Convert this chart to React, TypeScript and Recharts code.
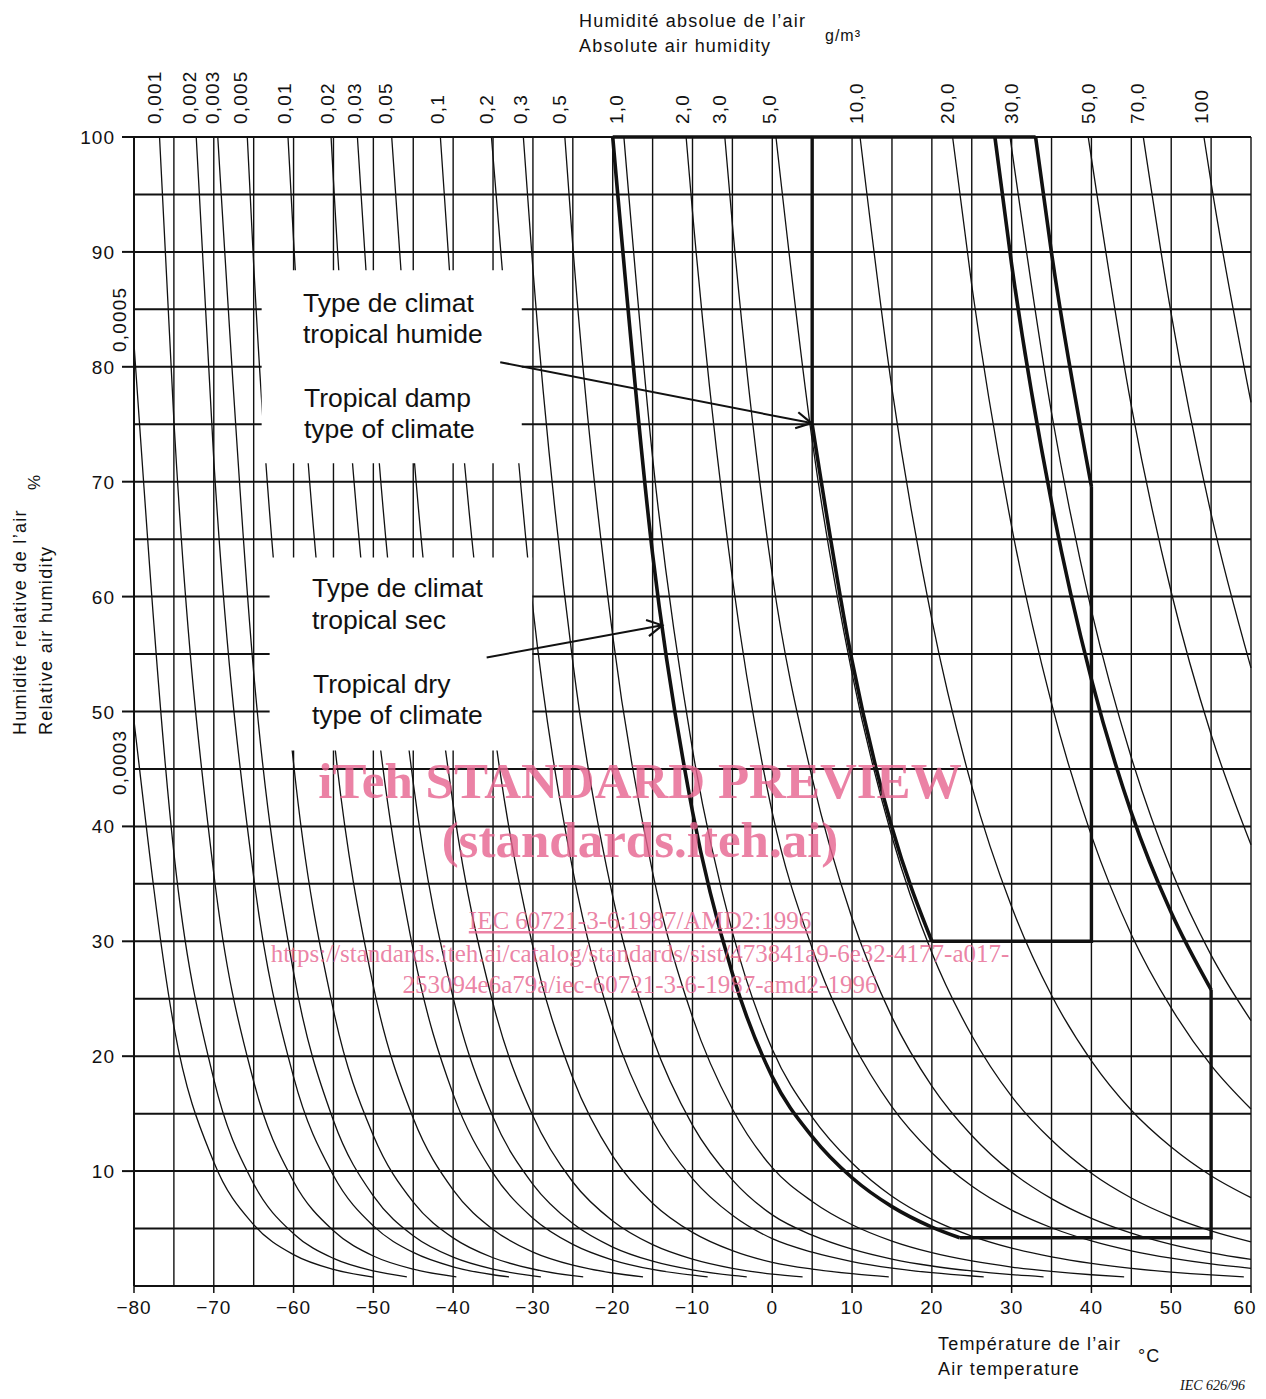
import React from "react";
import {
  CartesianGrid,
  Line,
  LineChart,
  ReferenceArea,
  ReferenceDot,
  ReferenceLine,
  XAxis,
  YAxis,
} from "recharts";

type Pt = [number, number];

// axis ticks (grid every 5, labels every 10)
const TEMP_TICKS = [
  -80, -75, -70, -65, -60, -55, -50, -45, -40, -35, -30, -25, -20, -15, -10, -5, 0, 5, 10, 15, 20,
  25, 30, 35, 40, 45, 50, 55, 60,
];
const RH_TICKS = [0, 5, 10, 15, 20, 25, 30, 35, 40, 45, 50, 55, 60, 65, 70, 75, 80, 85, 90, 95, 100];

// absolute humidity labels along the top (g/m3) and where they sit on the temperature scale
const TOP_LABELS = [
  "0,001", "0,002", "0,003", "0,005", "0,01", "0,02", "0,03", "0,05", "0,1", "0,2", "0,3", "0,5",
  "1,0", "2,0", "3,0", "5,0", "10,0", "20,0", "30,0", "50,0", "70,0", "100",
];
const TOP_LABEL_T = [
  -77.4, -73.0, -70.1, -66.6, -61.1, -55.8, -52.4, -48.5, -42.0, -35.8, -31.6, -26.7, -19.5, -11.3,
  -6.6, -0.3, 10.6, 22.0, 30.0, 39.6, 45.8, 53.8,
];

// constant absolute humidity curves: [temperature °C, relative humidity %]
const AH_0_0003: Pt[] = [[-80, 49.2], [-75, 22.6], [-70, 10.8], [-65, 5.34], [-60, 2.73], [-55, 1.44], [-50, 0.78]];
const AH_0_0005: Pt[] = [[-80, 82.0], [-75, 37.7], [-70, 18.0], [-65, 8.89], [-60, 4.55], [-55, 2.4], [-50, 1.31], [-45.8, 0.8]];
const AH_0_001: Pt[] = [[-76.8, 100], [-75, 75.3], [-70, 35.9], [-65, 17.8], [-60, 9.1], [-55, 4.81], [-50, 2.61], [-45, 1.46], [-39.6, 0.8]];
const AH_0_002: Pt[] = [[-72.2, 100], [-70, 71.9], [-65, 35.6], [-60, 18.2], [-55, 9.62], [-50, 5.23], [-45, 2.92], [-40, 1.67], [-35, 0.98], [-33.0, 0.8]];
const AH_0_003: Pt[] = [[-69.5, 100], [-65, 53.4], [-60, 27.3], [-55, 14.4], [-50, 7.84], [-45, 4.38], [-40, 2.51], [-35, 1.47], [-30, 0.89], [-29.0, 0.8]];
const AH_0_005: Pt[] = [[-65.8, 100], [-65, 88.9], [-60, 45.5], [-55, 24.0], [-50, 13.1], [-45, 7.3], [-40, 4.19], [-35, 2.46], [-30, 1.48], [-25, 0.9], [-23.7, 0.8]];
const AH_0_01: Pt[] = [[-60.7, 100], [-60, 91.0], [-55, 48.1], [-50, 26.1], [-45, 14.6], [-40, 8.37], [-35, 4.92], [-30, 2.95], [-25, 1.81], [-20, 1.13], [-16.2, 0.8]];
const AH_0_02: Pt[] = [[-55.3, 100], [-55, 96.2], [-50, 52.3], [-45, 29.2], [-40, 16.7], [-35, 9.83], [-30, 5.9], [-25, 3.62], [-20, 2.26], [-15, 1.44], [-10, 0.94], [-8.1, 0.8]];
const AH_0_03: Pt[] = [[-52.0, 100], [-50, 78.4], [-45, 43.8], [-40, 25.1], [-35, 14.7], [-30, 8.85], [-25, 5.43], [-20, 3.39], [-15, 2.16], [-10, 1.4], [-5, 0.92], [-3.2, 0.8]];
const AH_0_05: Pt[] = [[-47.7, 100], [-45, 73.0], [-40, 41.9], [-35, 24.6], [-30, 14.8], [-25, 9.05], [-20, 5.66], [-15, 3.6], [-10, 2.34], [-5, 1.54], [0, 1.03], [3.8, 0.8]];
const AH_0_1: Pt[] = [[-41.6, 100], [-40, 83.7], [-35, 49.2], [-30, 29.5], [-25, 18.1], [-20, 11.3], [-15, 7.21], [-10, 4.67], [-5, 3.08], [0, 2.06], [5, 1.47], [10, 1.07], [14.6, 0.8]];
const AH_0_2: Pt[] = [[-35.2, 100], [-35, 98.3], [-30, 59.0], [-25, 36.2], [-20, 22.6], [-15, 14.4], [-10, 9.35], [-5, 6.16], [0, 4.12], [5, 2.94], [10, 2.13], [15, 1.56], [20, 1.16], [25, 0.87], [26.5, 0.8]];
const AH_0_3: Pt[] = [[-31.2, 100], [-30, 88.5], [-25, 54.3], [-20, 33.9], [-15, 21.6], [-10, 14.0], [-5, 9.24], [0, 6.19], [5, 4.42], [10, 3.2], [15, 2.34], [20, 1.74], [25, 1.31], [30, 0.99], [34.0, 0.8]];
const AH_0_5: Pt[] = [[-26.0, 100], [-25, 90.5], [-20, 56.6], [-15, 36.0], [-10, 23.4], [-5, 15.4], [0, 10.3], [5, 7.36], [10, 5.33], [15, 3.91], [20, 2.9], [25, 2.18], [30, 1.65], [35, 1.27], [40, 0.98], [44.1, 0.8]];
const AH_1: Pt[] = [[-18.6, 100], [-15, 72.1], [-10, 46.7], [-5, 30.8], [0, 20.6], [5, 14.7], [10, 10.7], [15, 7.81], [20, 5.8], [25, 4.35], [30, 3.3], [35, 2.53], [40, 1.96], [45, 1.53], [50, 1.21], [55, 0.96], [59.1, 0.8]];
const AH_2: Pt[] = [[-10.8, 100], [-10, 93.5], [-5, 61.6], [0, 41.2], [5, 29.4], [10, 21.3], [15, 15.6], [20, 11.6], [25, 8.71], [30, 6.61], [35, 5.07], [40, 3.92], [45, 3.06], [50, 2.42], [55, 1.92], [60, 1.54]];
const AH_3: Pt[] = [[-5.95, 100], [-5, 92.4], [0, 61.9], [5, 44.2], [10, 32.0], [15, 23.4], [20, 17.4], [25, 13.1], [30, 9.91], [35, 7.6], [40, 5.88], [45, 4.6], [50, 3.62], [55, 2.88], [60, 2.31]];
const AH_5: Pt[] = [[0.46, 100], [5, 73.6], [10, 53.3], [15, 39.1], [20, 29.0], [25, 21.8], [30, 16.5], [35, 12.7], [40, 9.81], [45, 7.66], [50, 6.04], [55, 4.8], [60, 3.84]];
const AH_10: Pt[] = [[11.0, 100], [15, 78.1], [20, 58.0], [25, 43.5], [30, 33.0], [35, 25.3], [40, 19.6], [45, 15.3], [50, 12.1], [55, 9.6], [60, 7.69]];
const AH_20: Pt[] = [[22.6, 100], [25, 87.1], [30, 66.1], [35, 50.7], [40, 39.2], [45, 30.6], [50, 24.2], [55, 19.2], [60, 15.4]];
const AH_30: Pt[] = [[29.8, 100], [35, 76.0], [40, 58.8], [45, 46.0], [50, 36.2], [55, 28.8], [60, 23.1]];
const AH_50: Pt[] = [[39.6, 100], [45, 76.6], [50, 60.4], [55, 48.0], [60, 38.4]];
const AH_70: Pt[] = [[46.5, 100], [50, 84.6], [55, 67.2], [60, 53.8]];
const AH_100: Pt[] = [[54.1, 100], [55, 96.0], [60, 76.9]];

const THIN_CURVES: Pt[][] = [
  AH_0_0003, AH_0_0005, AH_0_001, AH_0_002, AH_0_003, AH_0_005, AH_0_01, AH_0_02, AH_0_03, AH_0_05,
  AH_0_1, AH_0_2, AH_0_3, AH_0_5, AH_1, AH_2, AH_3, AH_5, AH_10, AH_20, AH_30, AH_50, AH_70, AH_100,
];

// climate type outlines
const DRY_LEFT: Pt[] = [[-20, 100], [-15, 63.7], [-10, 41.3], [-5, 27.2], [0, 18.2], [5, 13.0], [10, 9.42], [15, 6.91], [20, 5.13], [23.5, 4.2]];
const DRY_RIGHT: Pt[] = [[27.9, 100], [30, 88.9], [35, 68.2], [40, 52.8], [45, 41.2], [50, 32.5], [55, 25.8]];
const DRY_BOTTOM: Pt[] = [[23.5, 4.2], [55, 4.2], [55, 25.8]];
const DAMP_LOWER: Pt[] = [[5, 75], [10, 54.4], [15, 39.9], [20, 30]];
const DAMP_RIGHT: Pt[] = [[33, 100], [35, 89.9], [40, 69.6]];
const DAMP_EDGES: Pt[] = [[40, 69.6], [40, 30], [20, 30]];
const DAMP_LEFT: Pt[] = [[5, 100], [5, 75]];
const TOP_EDGE: Pt[] = [[-20, 100], [33, 100]];

const THICK_CURVES: Pt[][] = [DRY_LEFT, DRY_RIGHT, DAMP_LOWER, DAMP_RIGHT];
const THICK_STRAIGHT: Pt[][] = [DRY_BOTTOM, DAMP_EDGES, DAMP_LEFT, TOP_EDGE];

// white label panels and pointer arrows (data coordinates)
const PANEL_DAMP = { x1: -64, x2: -31.4, y1: 71.6, y2: 88.4 };
const PANEL_DRY = { x1: -63, x2: -30.1, y1: 46.6, y2: 63.4 };
const ARROW_DAMP: Pt[] = [[-34.1, 80.4], [4.9, 75.1]];
const ARROW_DRY: Pt[] = [[-35.8, 54.7], [-13.8, 57.5]];

const W = 1250;
const H = 1383;
const INK = "#111";
const FONT = '"Liberation Sans", Arial, Helvetica, sans-serif';
const SERIF = '"Liberation Serif", "Times New Roman", serif';
const PINK = "rgba(230, 99, 142, 0.8)";

const toPoints = (pts: Pt[]) => pts.map(([t, rh]) => ({ t, rh }));

function YTick(props: any) {
  const { x, y, payload } = props;
  const v = payload.value;
  if (v % 10 !== 0 || v === 0) return <g />;
  return (
    <g>
      <line x1={x - 12} x2={x} y1={y} y2={y} stroke={INK} strokeWidth={2} />
      <text x={x - 19} y={y} dy={7} textAnchor="end" fontFamily={FONT} fontSize={19} letterSpacing={1} fill={INK}>
        {v}
      </text>
    </g>
  );
}

function XTick(props: any) {
  const { x, y, payload } = props;
  const v = payload.value;
  if (v % 10 !== 0) return <g />;
  const txt = v < 0 ? `\u2212${Math.abs(v)}` : `${v}`;
  // last label sits against the page edge, nudge it inward
  const tx = v === 60 ? x - 6 : x;
  return (
    <g>
      <line x1={x} x2={x} y1={y} y2={y + 7} stroke={INK} strokeWidth={1.5} />
      <text x={tx} y={y + 28} textAnchor="middle" fontFamily={FONT} fontSize={19} letterSpacing={1} fill={INK}>
        {txt}
      </text>
    </g>
  );
}

function topLabel(text: string) {
  return (p: any) => {
    const x = p.cx;
    const y = p.cy - 13;
    return (
      <text
        x={x}
        y={y}
        transform={`rotate(-90 ${x} ${y})`}
        textAnchor="start"
        dominantBaseline="central"
        fontFamily={FONT}
        fontSize={19}
        letterSpacing={1.2}
        fill={INK}
      >
        {text}
      </text>
    );
  };
}

function Arrow(props: any) {
  const { x1, y1, x2, y2 } = props;
  const a = Math.atan2(y2 - y1, x2 - x1);
  const len = 17;
  const s = 0.5;
  const ax = x2 - len * Math.cos(a - s);
  const ay = y2 - len * Math.sin(a - s);
  const bx = x2 - len * Math.cos(a + s);
  const by = y2 - len * Math.sin(a + s);
  return (
    <g>
      <line x1={x1} y1={y1} x2={x2} y2={y2} stroke={INK} strokeWidth={2} />
      <polyline points={`${ax},${ay} ${x2},${y2} ${bx},${by}`} fill="none" stroke={INK} strokeWidth={2.2} />
    </g>
  );
}

export default function App() {
  return (
    <div style={{ position: "relative", width: W, height: H }}>
      <style>{`.recharts-surface { overflow: visible; }`}</style>
      <LineChart width={W} height={H} margin={{ top: 129, right: 7, bottom: 75, left: 0 }}>
        <CartesianGrid vertical={false} stroke={INK} strokeWidth={2} />
        <CartesianGrid horizontal={false} stroke={INK} strokeWidth={1.4} />
        <XAxis
          dataKey="t"
          type="number"
          domain={[-80, 60]}
          ticks={TEMP_TICKS}
          interval={0}
          tickSize={0}
          tickMargin={0}
          tick={<XTick />}
          axisLine={{ stroke: INK, strokeWidth: 2 }}
          height={30}
        />
        <YAxis
          type="number"
          domain={[0, 100]}
          ticks={RH_TICKS}
          interval={0}
          tickSize={0}
          tickMargin={0}
          tick={<YTick />}
          axisLine={{ stroke: INK, strokeWidth: 2 }}
          width={126}
        />
        {THIN_CURVES.map((c, i) => (
          <Line
            key={`thin-${i}`}
            data={toPoints(c)}
            dataKey="rh"
            type="monotone"
            stroke={INK}
            strokeWidth={1.3}
            dot={false}
            activeDot={false}
            isAnimationActive={false}
          />
        ))}
        {THICK_CURVES.map((c, i) => (
          <Line
            key={`thick-c-${i}`}
            data={toPoints(c)}
            dataKey="rh"
            type="monotone"
            stroke={INK}
            strokeWidth={3.6}
            dot={false}
            activeDot={false}
            isAnimationActive={false}
          />
        ))}
        {THICK_STRAIGHT.map((c, i) => (
          <Line
            key={`thick-s-${i}`}
            data={toPoints(c)}
            dataKey="rh"
            type="linear"
            stroke={INK}
            strokeWidth={3.4}
            dot={false}
            activeDot={false}
            isAnimationActive={false}
          />
        ))}
        <ReferenceArea {...PANEL_DAMP} fill="#fff" fillOpacity={1} stroke="none" zIndex={600} />
        <ReferenceArea {...PANEL_DRY} fill="#fff" fillOpacity={1} stroke="none" zIndex={600} />
        <ReferenceLine
          segment={ARROW_DAMP.map(([x, y]) => ({ x, y }))}
          shape={Arrow}
          stroke={INK}
          zIndex={700}
        />
        <ReferenceLine
          segment={ARROW_DRY.map(([x, y]) => ({ x, y }))}
          shape={Arrow}
          stroke={INK}
          zIndex={700}
        />
        {TOP_LABEL_T.map((t, i) => (
          <ReferenceDot
            key={`top-${i}`}
            x={t}
            y={100}
            r={0}
            ifOverflow="visible"
            shape={topLabel(TOP_LABELS[i])}
            zIndex={800}
          />
        ))}
      </LineChart>

      <svg
        width={W}
        height={H}
        style={{ position: "absolute", left: 0, top: 0, pointerEvents: "none", overflow: "visible" }}
      >
        <g fontFamily={FONT} fill={INK}>
          <text x={571} y={19} fontSize={18} letterSpacing={1.2}>Humidité absolue de l’air</text>
          <text x={571} y={44} fontSize={18} letterSpacing={1.2}>Absolute air humidity</text>
          <text x={817} y={33} fontSize={16} letterSpacing={1}>g/m³</text>

          <text x={18} y={727} transform="rotate(-90 18 727)" fontSize={18} letterSpacing={1.3}>
            Humidité relative de l’air
          </text>
          <text x={44} y={727} transform="rotate(-90 44 727)" fontSize={18} letterSpacing={1.3}>
            Relative air humidity
          </text>
          <text x={32} y={482} transform="rotate(-90 32 482)" fontSize={17}>%</text>
          <text x={118} y={344} transform="rotate(-90 118 344)" fontSize={19} letterSpacing={1.2}>0,0005</text>
          <text x={118} y={787} transform="rotate(-90 118 787)" fontSize={19} letterSpacing={1.2}>0,0003</text>

          <text x={930} y={1342} fontSize={18} letterSpacing={1.2}>Température de l’air</text>
          <text x={930} y={1367} fontSize={18} letterSpacing={1.2}>Air temperature</text>
          <text x={1130} y={1354} fontSize={18} letterSpacing={1}>°C</text>

          <g fontSize={26.5}>
            <text x={295} y={304}>Type de climat</text>
            <text x={295} y={335}>tropical humide</text>
            <text x={296} y={399}>Tropical damp</text>
            <text x={296} y={430}>type of climate</text>
            <text x={304} y={589}>Type de climat</text>
            <text x={304} y={621}>tropical sec</text>
            <text x={305} y={685}>Tropical dry</text>
            <text x={304} y={716}>type of climate</text>
          </g>
        </g>

        <text x={1172} y={1382} fontFamily={SERIF} fontStyle="italic" fontSize={14} fill={INK}>
          IEC  626/96
        </text>

        <g fontFamily={SERIF} fill={PINK} textAnchor="middle">
          <text x={632} y={790} fontSize={51} fontWeight="bold">iTeh STANDARD PREVIEW</text>
          <text x={632} y={849} fontSize={51} fontWeight="bold">(standards.iteh.ai)</text>
          <text x={632} y={921} fontSize={25} textDecoration="underline">IEC 60721-3-6:1987/AMD2:1996</text>
          <text x={632} y={954} fontSize={25}>
            https://standards.iteh.ai/catalog/standards/sist/473841a9-6e32-4177-a017-
          </text>
          <text x={632} y={985} fontSize={25}>253094e6a79a/iec-60721-3-6-1987-amd2-1996</text>
        </g>
      </svg>
    </div>
  );
}
